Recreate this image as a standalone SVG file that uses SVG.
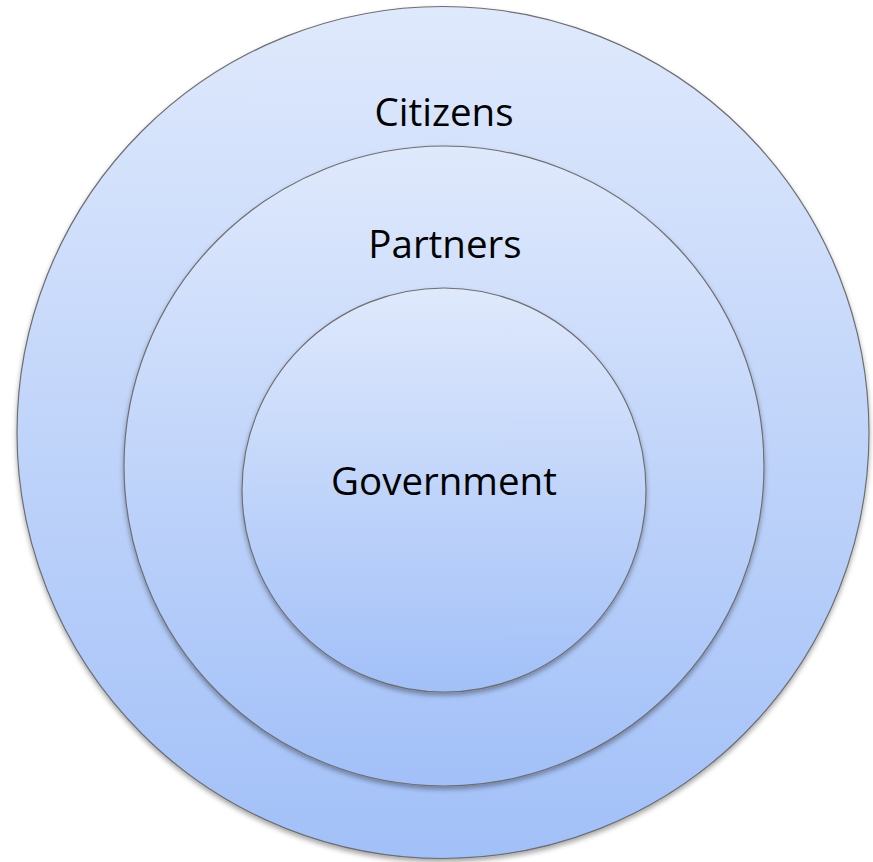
<svg xmlns="http://www.w3.org/2000/svg" width="873" height="862" viewBox="0 0 873 862">
<style>
.ring{stroke:#6e6e72;stroke-width:1.2;fill:url(#g);filter:url(#sh)}
.lbl{font-family:"Open Sans","Liberation Sans",sans-serif;font-size:38.5px;fill:#000;text-anchor:middle}
</style>
<defs>
<linearGradient id="g" x1="0" y1="0" x2="0" y2="1">
<stop offset="0" stop-color="#dfe9fc"/>
<stop offset="1" stop-color="#a2c0f8"/>
</linearGradient>
<filter id="sh" x="-10%" y="-10%" width="120%" height="120%">
<feDropShadow dx="0" dy="3" stdDeviation="2.5" flood-color="#000" flood-opacity="0.35"/>
</filter>
</defs>
<rect width="873" height="862" fill="#fff"/>
<g id="citizens">
<circle class="ring" cx="443" cy="432.5" r="426"/>
<text class="lbl" x="444" y="126">Citizens</text>
</g>
<g id="partners">
<circle class="ring" cx="444" cy="466" r="320"/>
<text class="lbl" x="445" y="258">Partners</text>
</g>
<g id="government">
<circle class="ring" cx="444" cy="490" r="202"/>
<text class="lbl" x="444" y="495">Government</text>
</g>
<g id="connectors"/>
</svg>
